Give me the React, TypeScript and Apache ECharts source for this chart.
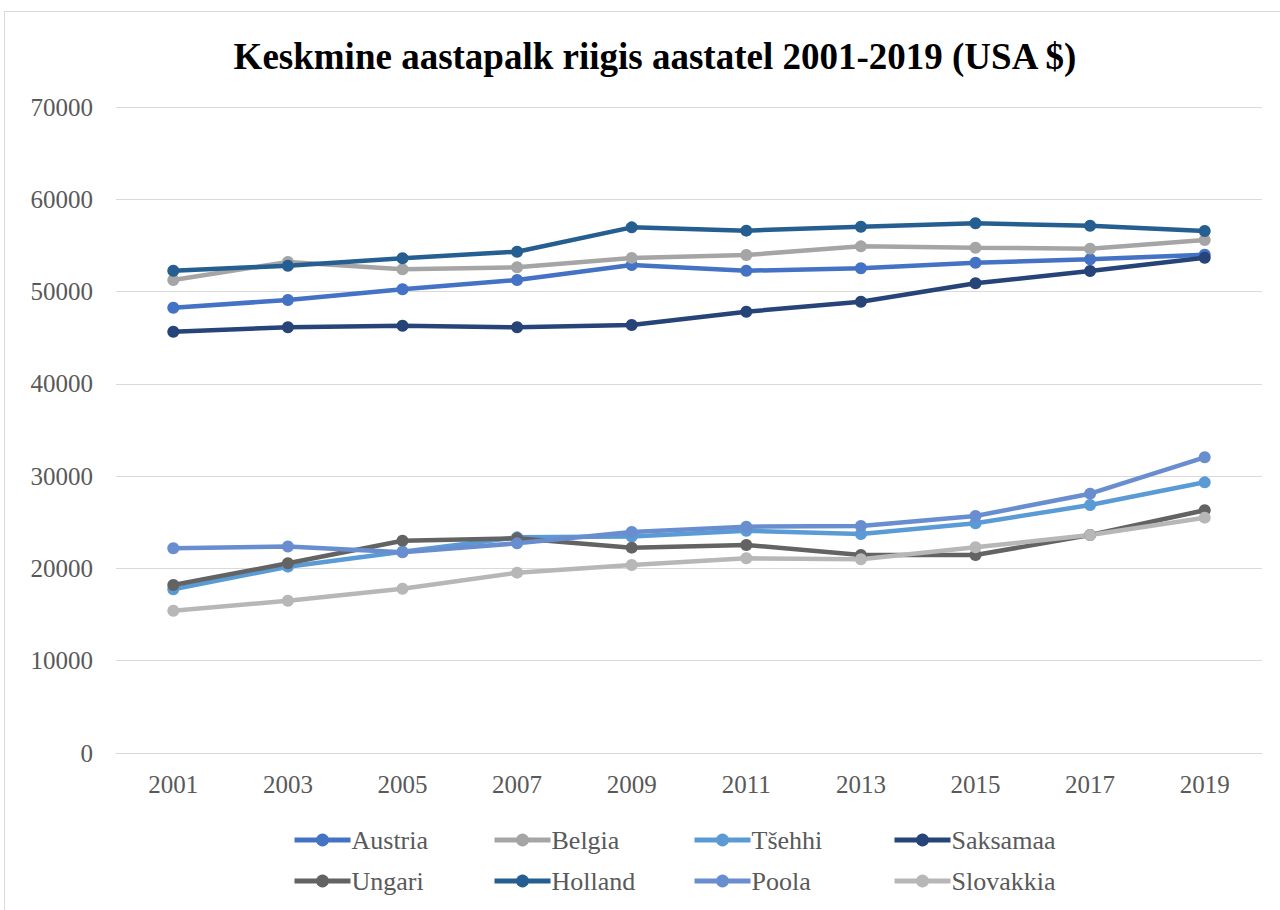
import React, { useEffect, useRef } from "react";
import * as echarts from "echarts";

const years = ["2001", "2003", "2005", "2007", "2009", "2011", "2013", "2015", "2017", "2019"];
const yTicks = [0, 10000, 20000, 30000, 40000, 50000, 60000, 70000];
const austria = [48250, 49090, 50250, 51250, 52880, 52260, 52520, 53130, 53500, 54000];
const belgia = [51250, 53200, 52410, 52630, 53650, 53960, 54900, 54750, 54650, 55590];
const tsehhi = [17740, 20190, 21810, 23370, 23450, 24090, 23730, 24890, 26870, 29330];
const saksamaa = [45650, 46130, 46300, 46130, 46380, 47820, 48900, 50900, 52230, 53670];
const ungari = [18200, 20560, 23000, 23260, 22250, 22540, 21450, 21450, 23620, 26300];
const holland = [52260, 52800, 53610, 54320, 56960, 56600, 57030, 57400, 57140, 56560];
const poola = [22180, 22380, 21750, 22720, 23950, 24520, 24600, 25680, 28100, 32040];
const slovakkia = [15420, 16500, 17800, 19540, 20370, 21100, 20990, 22300, 23620, 25500];

const seriesDefs = [
  { name: "Austria", data: austria, color: "#4472C4" },
  { name: "Belgia", data: belgia, color: "#A5A5A5" },
  { name: "Tšehhi", data: tsehhi, color: "#5B9BD5" },
  { name: "Saksamaa", data: saksamaa, color: "#264478" },
  { name: "Ungari", data: ungari, color: "#636363" },
  { name: "Holland", data: holland, color: "#255E91" },
  { name: "Poola", data: poola, color: "#698ED0" },
  { name: "Slovakkia", data: slovakkia, color: "#B7B7B7" },
];

const legendColumns = [
  ["Austria", "Ungari"],
  ["Belgia", "Holland"],
  ["Tšehhi", "Poola"],
  ["Saksamaa", "Slovakkia"],
];

const FONT = "'Liberation Serif', 'Times New Roman', serif";

export default function App() {
  const ref = useRef<HTMLDivElement>(null);
  useEffect(() => {
    document.body.style.margin = "0";
    const chart = echarts.init(ref.current!, undefined, { renderer: "svg" });
    chart.setOption({
      animation: false,
      backgroundColor: "#ffffff",
      title: {
        text: "Keskmine aastapalk riigis aastatel 2001-2019 (USA $)",
        left: 650,
        textAlign: "center",
        top: 33,
        textStyle: { fontFamily: FONT, fontSize: 37, fontWeight: "bold", color: "#000000" },
      },
      graphic: [
        {
          type: "rect",
          shape: { x: 4.5, y: 11.5, width: 1300, height: 920 },
          style: { fill: "none", stroke: "#d9d9d9", lineWidth: 1 },
          silent: true,
        },
      ],
      legend: legendColumns.map((col, i) => ({
        data: col,
        orient: "vertical",
        left: 287 + i * 200,
        top: 821,
        padding: 5,
        itemWidth: 56,
        itemHeight: 16,
        itemGap: 13,
        lineStyle: { width: 5 },
        textStyle: { fontFamily: FONT, fontSize: 26, lineHeight: 28, color: "#595959", padding: [0, 0, 0, -4] },
      })),
      grid: { left: 116, right: 18, top: 107, bottom: 157, containLabel: false },
      xAxis: {
        type: "category",
        data: years,
        boundaryGap: true,
        axisLine: { show: true, lineStyle: { color: "#d9d9d9", width: 1 } },
        axisTick: { show: false },
        axisLabel: { fontFamily: FONT, fontSize: 25, color: "#595959", margin: 19 },
      },
      yAxis: {
        type: "value",
        min: yTicks[0],
        max: yTicks[yTicks.length - 1],
        interval: yTicks[1] - yTicks[0],
        axisLine: { show: false },
        axisTick: { show: false },
        splitLine: { lineStyle: { color: "#d9d9d9", width: 1 } },
        axisLabel: {
          fontFamily: FONT,
          fontSize: 25,
          color: "#595959",
          margin: 23,
          formatter: (v: number) => String(v),
        },
      },
      series: seriesDefs.map((s) => ({
        name: s.name,
        type: "line",
        data: s.data,
        symbol: "circle",
        symbolSize: 12,
        lineStyle: { width: 4.5, color: s.color },
        itemStyle: { color: s.color },
        emphasis: { disabled: true },
      })),
    });
    return () => chart.dispose();
  }, []);
  return <div ref={ref} style={{ width: 1280, height: 910 }} />;
}
